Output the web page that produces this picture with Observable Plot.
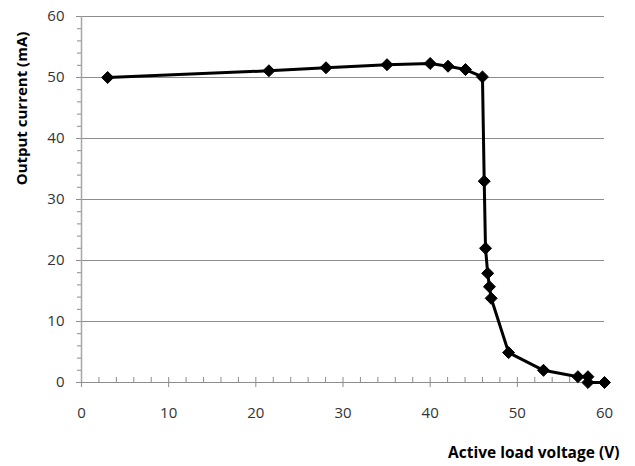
<!DOCTYPE html>
<html>
<head>
<meta charset="utf-8">
<script src="https://cdn.jsdelivr.net/npm/d3@7"></script>
<script src="https://cdn.jsdelivr.net/npm/@observablehq/plot@0.6"></script>
<style>
  html, body { margin: 0; padding: 0; background: #fff; }
</style>
</head>
<body>
<div id="chart"></div>
<script>
const voltage = [3.0, 21.5, 28.05, 35.05, 40.0, 42.05, 44.05, 46.0, 46.2, 46.35, 46.6, 46.8, 47.0, 49.0, 53.0, 56.95, 58.1, 58.1, 60.0];
const current = [50.0, 51.1, 51.6, 52.1, 52.3, 51.85, 51.3, 50.1, 33.0, 22.0, 17.9, 15.7, 13.8, 4.9, 2.0, 0.95, 0.95, 0.0, 0.0];
const xTicks = [0, 10, 20, 30, 40, 50, 60];
const yTicks = [0, 10, 20, 30, 40, 50, 60];
const xMinor = d3.range(0, 61, 2);
const yMinor = d3.range(0, 61, 2).filter(v => v % 10 !== 0);
const xTitle = "Active load voltage (V)";
const yTitle = "Output current (mA)";

const data = voltage.map((v, i) => ({v, c: current[i]}));
const font = "'Open Sans', sans-serif";

const chart = Plot.plot({
  width: 635,
  height: 466,
  marginLeft: 81,
  marginRight: 31,
  marginTop: 16,
  marginBottom: 84,
  style: {fontFamily: font, fontSize: "14px", color: "#404040", background: "#fff"},
  x: {domain: [0, 60]},
  y: {domain: [0, 60]},
  marks: [
    Plot.gridY(yTicks.filter(d => d > 0), {stroke: "#8c8c8c", strokeOpacity: 1, strokeWidth: 1}),
    Plot.axisY(yTicks, {anchor: "left", tickSize: 5, tickPadding: 12, stroke: "#8c8c8c", label: null, fill: "#333", fontSize: 15}),
    Plot.axisY(yMinor, {anchor: "left", tickSize: 4, tickFormat: () => "", stroke: "#8c8c8c", label: null}),
    Plot.axisX(xTicks, {anchor: "bottom", tickSize: 5, tickPadding: 20, stroke: "#8c8c8c", label: null, fill: "#333", fontSize: 15}),
    Plot.axisX(xMinor, {anchor: "bottom", tickSize: 5, dy: -5, tickFormat: () => "", stroke: "#8c8c8c", label: null}),
    Plot.ruleX([0], {stroke: "#a6a6a6", strokeWidth: 1.5}),
    Plot.ruleY([0], {stroke: "#8c8c8c", strokeWidth: 1}),
    Plot.line(data, {x: "v", y: "c", stroke: "#000", strokeWidth: 3, strokeLinejoin: "round"}),
    Plot.dot(data, {x: "v", y: "c", symbol: "diamond2", r: 5.4, fill: "#000", stroke: "#000", strokeWidth: 1}),
    Plot.text([yTitle], {frameAnchor: "top-left", dx: -59, dy: 92, rotate: -90, textAnchor: "middle", lineAnchor: "middle", fontWeight: "bold", fontSize: 15, fill: "#000"}),
    Plot.text([xTitle], {frameAnchor: "bottom-right", dx: 15, dy: 71, textAnchor: "end", lineAnchor: "middle", fontWeight: "bold", fontSize: 15.5, fill: "#000"})
  ]
});
document.getElementById("chart").appendChild(chart);
</script>
</body>
</html>
